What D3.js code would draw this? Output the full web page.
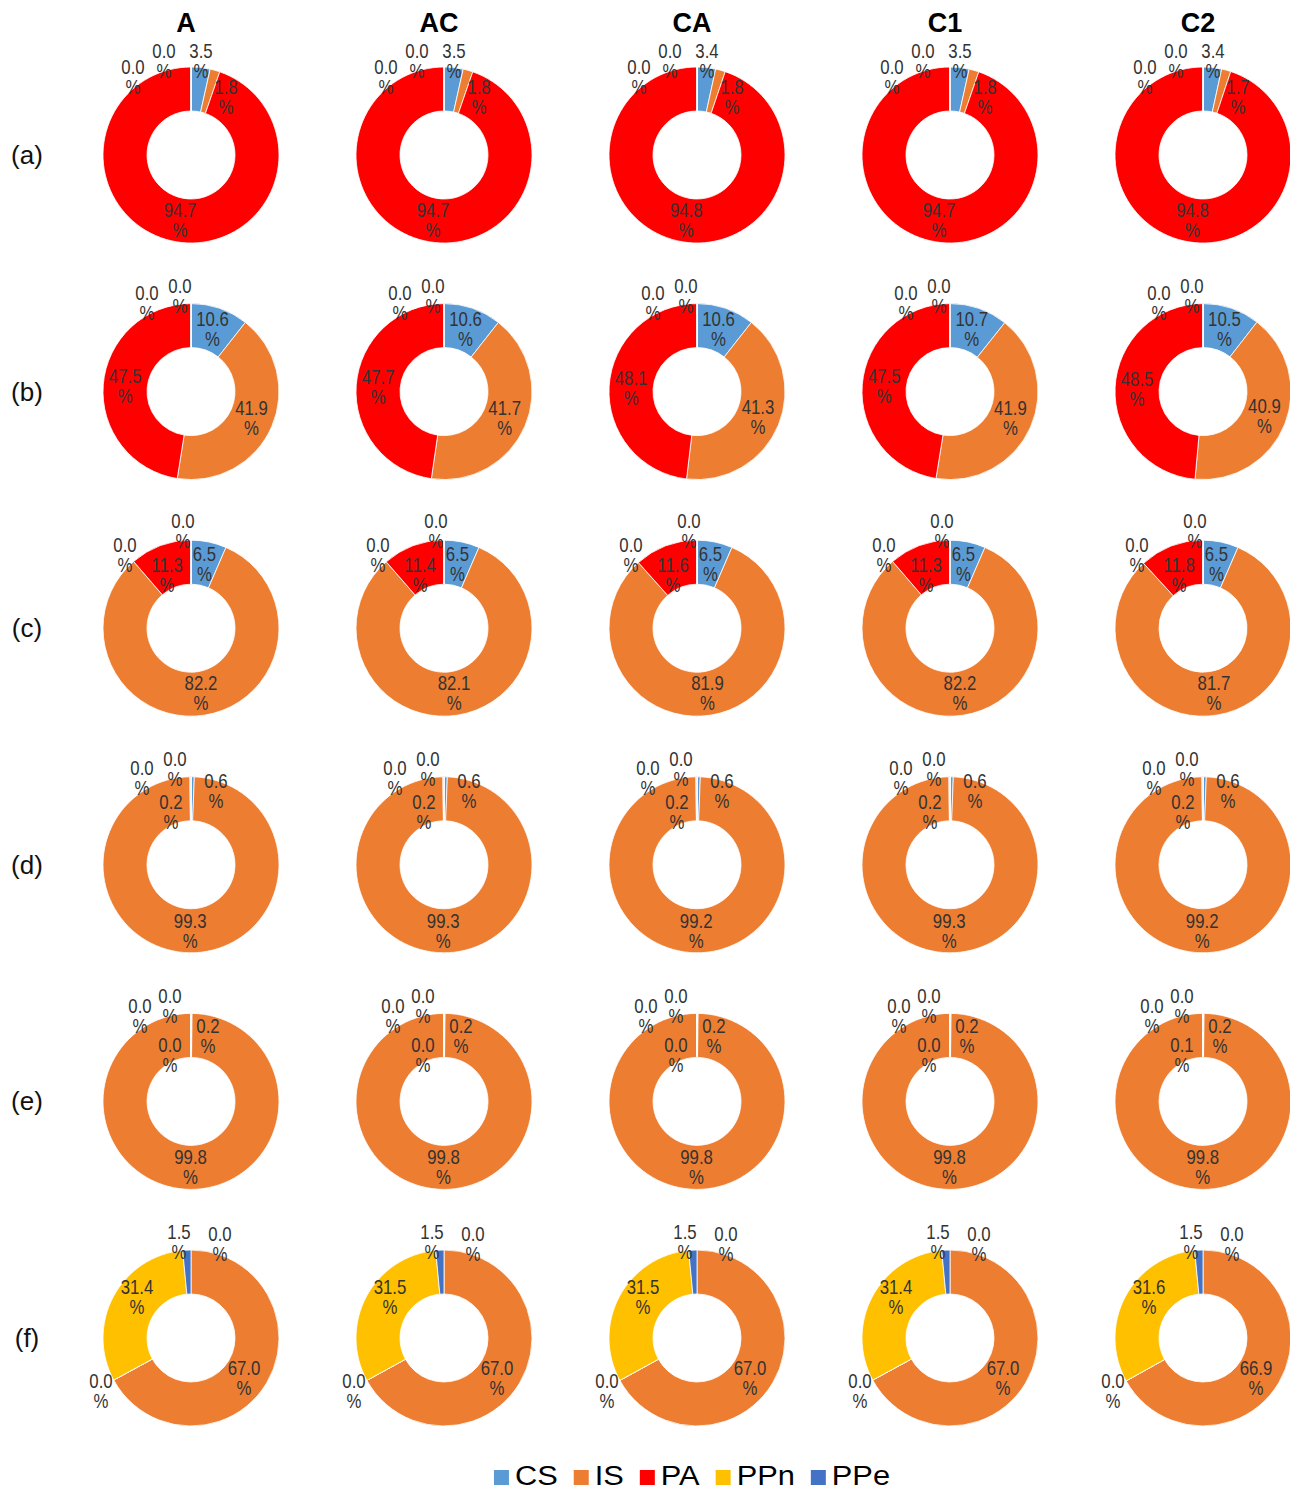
<!DOCTYPE html>
<html>
<head>
<meta charset="utf-8">
<script src="https://cdn.jsdelivr.net/npm/d3@7"></script>
<style>
  html, body { margin: 0; padding: 0; background: #fff; }
  svg { display: block; }
  text { font-family: "Liberation Sans", Arial, sans-serif; }
</style>
</head>
<body>
<svg id="chart" width="1290" height="1491"></svg>
<script>
// ---------------- data ----------------
const columns   = ["A", "AC", "CA", "C1", "C2"];
const rowLabels = ["(a)", "(b)", "(c)", "(d)", "(e)", "(f)"];
const series    = ["CS", "IS", "PA", "PPn", "PPe"];

// values per row: one array per column, in series order CS, IS, PA, PPn, PPe (%)
const rowA = [[3.5, 1.8, 94.7, 0.0, 0.0], [3.5, 1.8, 94.7, 0.0, 0.0], [3.4, 1.8, 94.8, 0.0, 0.0], [3.5, 1.8, 94.7, 0.0, 0.0], [3.4, 1.7, 94.8, 0.0, 0.0]];
const rowB = [[10.6, 41.9, 47.5, 0.0, 0.0], [10.6, 41.7, 47.7, 0.0, 0.0], [10.6, 41.3, 48.1, 0.0, 0.0], [10.7, 41.9, 47.5, 0.0, 0.0], [10.5, 40.9, 48.5, 0.0, 0.0]];
const rowC = [[6.5, 82.2, 11.3, 0.0, 0.0], [6.5, 82.1, 11.4, 0.0, 0.0], [6.5, 81.9, 11.6, 0.0, 0.0], [6.5, 82.2, 11.3, 0.0, 0.0], [6.5, 81.7, 11.8, 0.0, 0.0]];
const rowD = [[0.6, 99.3, 0.2, 0.0, 0.0], [0.6, 99.3, 0.2, 0.0, 0.0], [0.6, 99.2, 0.2, 0.0, 0.0], [0.6, 99.3, 0.2, 0.0, 0.0], [0.6, 99.2, 0.2, 0.0, 0.0]];
const rowE = [[0.2, 99.8, 0.0, 0.0, 0.0], [0.2, 99.8, 0.0, 0.0, 0.0], [0.2, 99.8, 0.0, 0.0, 0.0], [0.2, 99.8, 0.0, 0.0, 0.0], [0.2, 99.8, 0.1, 0.0, 0.0]];
const rowF = [[0.0, 67.0, 0.0, 31.4, 1.5], [0.0, 67.0, 0.0, 31.5, 1.5], [0.0, 67.0, 0.0, 31.5, 1.5], [0.0, 67.0, 0.0, 31.4, 1.5], [0.0, 66.9, 0.0, 31.6, 1.5]];
const rowValues = [rowA, rowB, rowC, rowD, rowE, rowF];

// ---------------- style / layout ----------------
const seriesColors = ["#5B9BD5", "#ED7D31", "#FF0000", "#FFC000", "#4472C4"];
const outerR = 88, innerR = 44;
// label placement per row (null = centre of the ring segment; otherwise offset from donut centre)
const labelSpots = [
  [[10, -94], [35, -58], null, [-58, -78], [-27, -94]],
  [null, null, null, [-44, -89], [-11, -96]],
  [null, null, [-24, -53], [-66, -73], [-8, -97]],
  [[25, -74], null, [-20, -53], [-49, -87], [-16, -96]],
  [[17, -65], null, [-21, -46], [-51, -85], [-21, -95]],
  [[29, -94], [53, 40], [-90, 53], [-54, -41], [-12, -96]]
];

const svg = d3.select("#chart");

const x = d3.scaleBand().domain(columns).range([64.5, 1329.5]);
const y = d3.scaleBand().domain(rowLabels).range([36.7, 1456.3]);
const color = d3.scaleOrdinal().domain(series).range(seriesColors);

const pie = d3.pie().sort(null).value(d => d.v);
const arc = d3.arc().innerRadius(innerR).outerRadius(outerR);
const labelArc = d3.arc().innerRadius((innerR + outerR) / 2).outerRadius((innerR + outerR) / 2);

// column headers
svg.append("g").selectAll("text").data(columns).join("text")
  .attr("x", d => x(d) + x.bandwidth() / 2 - 5)
  .attr("y", 32)
  .attr("text-anchor", "middle")
  .attr("font-size", 27)
  .attr("font-weight", "bold")
  .attr("fill", "#000")
  .text(d => d);

// row labels
svg.append("g").selectAll("text").data(rowLabels).join("text")
  .attr("x", 27)
  .attr("y", d => y(d) + y.bandwidth() / 2 + 9)
  .attr("text-anchor", "middle")
  .attr("font-size", 26)
  .attr("fill", "#111")
  .text(d => d);

// donuts
rowValues.forEach((rowVals, ri) => {
  const rName = rowLabels[ri];
  const cy = y(rName) + y.bandwidth() / 2;
  rowVals.forEach((vals, ci) => {
    const cx = x(columns[ci]) + x.bandwidth() / 2;
    const data = vals.map((v, i) => ({ v, s: series[i], i }));
    const arcs = pie(data);
    const g = svg.append("g").attr("transform", `translate(${cx},${cy})`);
    g.selectAll("path").data(arcs).join("path")
      .attr("d", arc)
      .attr("fill", d => color(d.data.s))
      .attr("stroke", "#fff")
      .attr("stroke-width", 0.8);
    const lab = g.selectAll("g.lab").data(arcs).join("g")
      .attr("class", "lab")
      .attr("transform", d => {
        const spot = labelSpots[ri][d.index];
        const p = spot ? spot : labelArc.centroid(d);
        return `translate(${p[0]},${p[1]}) scale(0.84,1)`;
      });
    const t = lab.append("text")
      .attr("text-anchor", "middle")
      .attr("font-size", 20)
      .attr("fill", "#333");
    t.append("tspan").attr("x", 0).attr("y", -3).text(d => d.data.v.toFixed(1));
    t.append("tspan").attr("x", 0).attr("y", 17).text("%");
  });
});

// legend
const legendScaleX = 1.1;
const legend = svg.append("g");
const items = legend.selectAll("g").data(series).join("g");
items.append("rect")
  .attr("width", 15).attr("height", 15)
  .attr("y", 1470)
  .attr("fill", d => color(d));
items.append("text")
  .attr("transform", `translate(21,1485) scale(${legendScaleX},1)`)
  .attr("font-size", 28)
  .attr("fill", "#000")
  .text(d => d);
let offset = 0;
const positions = [];
items.each(function () {
  const w = d3.select(this).select("text").node().getComputedTextLength() * legendScaleX;
  positions.push(offset);
  offset += 21 + w + 16;
});
const total = offset - 16;
const startX = 692 - total / 2;
items.attr("transform", (d, i) => `translate(${startX + positions[i]},0)`);
</script>
</body>
</html>
